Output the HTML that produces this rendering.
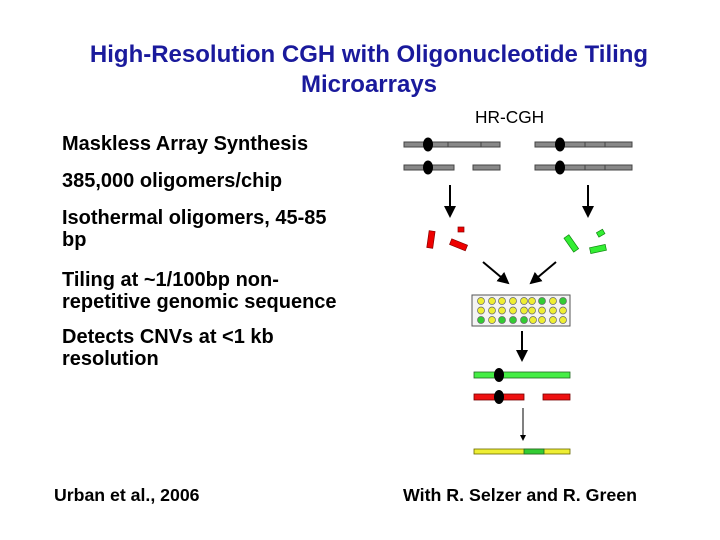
<!DOCTYPE html>
<html><head><style>
body{margin:0;background:#fff;}
.t{position:absolute;font-family:"Liberation Sans",sans-serif;font-weight:bold;color:#000;white-space:nowrap;}
.l{font-size:20px;line-height:22px;left:62px;}
</style></head><body>
<div style="position:relative;width:720px;height:540px;overflow:hidden;">
<div class="t" style="left:0;width:738px;top:40px;text-align:center;color:#1a1a9c;font-size:24px;line-height:30px;">High-Resolution CGH with Oligonucleotide Tiling<br>Microarrays</div>
<div class="t l" style="top:133px">Maskless Array Synthesis</div>
<div class="t l" style="top:170px">385,000 oligomers/chip</div>
<div class="t l" style="top:207px">Isothermal oligomers, 45-85<br>bp</div>
<div class="t l" style="top:269px">Tiling at ~1/100bp non-<br>repetitive genomic sequence</div>
<div class="t l" style="top:326px">Detects CNVs at &lt;1 kb<br>resolution</div>
<div class="t" style="left:54px;top:485px;font-size:17.7px;">Urban et al., 2006</div>
<div class="t" style="left:403px;top:485px;font-size:17.8px;">With R. Selzer and R. Green</div>
<div class="t" style="left:475px;top:107px;font-size:17.3px;font-weight:normal;">HR-CGH</div>
<svg width="720" height="540" style="position:absolute;left:0;top:0">
<defs><marker id="a" markerWidth="6" markerHeight="6" refX="5" refY="3" orient="auto" markerUnits="strokeWidth"><path d="M0,0L6,3L0,6z" fill="#000"/></marker></defs>
<g fill="#888" stroke="#444" stroke-width="1">
<rect x="404" y="142" width="96" height="5"/><line x1="448" y1="142" x2="448" y2="147"/><line x1="481" y1="142" x2="481" y2="147"/>
<rect x="404" y="165" width="50" height="5"/><rect x="473" y="165" width="27" height="5"/>
<rect x="535" y="142" width="97" height="5"/><line x1="585" y1="142" x2="585" y2="147"/><line x1="605" y1="142" x2="605" y2="147"/>
<rect x="535" y="165" width="97" height="5"/><line x1="585" y1="165" x2="585" y2="170"/><line x1="605" y1="165" x2="605" y2="170"/>
</g>
<g fill="#000"><ellipse cx="428" cy="144.5" rx="5" ry="7"/><ellipse cx="428" cy="167.5" rx="5" ry="7"/><ellipse cx="560" cy="144.5" rx="5" ry="7"/><ellipse cx="560" cy="167.5" rx="5" ry="7"/></g>
<g stroke="#000" stroke-width="2" fill="none" marker-end="url(#a)">
<line x1="450" y1="185" x2="450" y2="216"/><line x1="588" y1="185" x2="588" y2="216"/>
<line x1="483" y1="262" x2="508" y2="283"/><line x1="556" y1="262" x2="531" y2="283"/>
<line x1="522" y1="331" x2="522" y2="360"/>
</g>
<line x1="523" y1="408" x2="523" y2="440" stroke="#000" stroke-width="1" marker-end="url(#a)"/>
<g fill="#e00" stroke="#800" stroke-width="0.7">
<rect x="428" y="231" width="6" height="17" transform="rotate(8 431 239)"/>
<rect x="458" y="227" width="6" height="5"/>
<rect x="450" y="242" width="17" height="6" transform="rotate(22 459 245)"/>
</g>
<g fill="#3e3" stroke="#181" stroke-width="0.7">
<rect x="568" y="235" width="6" height="17" transform="rotate(-35 571 243)"/>
<rect x="597" y="231" width="7" height="5" transform="rotate(-30 600 233)"/>
<rect x="590" y="246" width="16" height="6" transform="rotate(-12 598 249)"/>
</g>
<rect x="472" y="295" width="98" height="31" fill="#f4f4f4" stroke="#555"/>
<g stroke="#666" stroke-width="0.7">
<circle cx="481" cy="301" r="3.5" fill="#ee3"/><circle cx="492" cy="301" r="3.5" fill="#ee3"/><circle cx="502" cy="301" r="3.5" fill="#ee3"/><circle cx="513" cy="301" r="3.5" fill="#ee3"/><circle cx="524" cy="301" r="3.5" fill="#ee3"/><circle cx="532" cy="301" r="3.5" fill="#ee3"/><circle cx="542" cy="301" r="3.5" fill="#3c3"/><circle cx="553" cy="301" r="3.5" fill="#ee3"/><circle cx="563" cy="301" r="3.5" fill="#3c3"/>
<circle cx="481" cy="310.5" r="3.5" fill="#ee3"/><circle cx="492" cy="310.5" r="3.5" fill="#ee3"/><circle cx="502" cy="310.5" r="3.5" fill="#ee3"/><circle cx="513" cy="310.5" r="3.5" fill="#ee3"/><circle cx="524" cy="310.5" r="3.5" fill="#ee3"/><circle cx="532" cy="310.5" r="3.5" fill="#ee3"/><circle cx="542" cy="310.5" r="3.5" fill="#ee3"/><circle cx="553" cy="310.5" r="3.5" fill="#ee3"/><circle cx="563" cy="310.5" r="3.5" fill="#ee3"/>
<circle cx="481" cy="320" r="3.5" fill="#3c3"/><circle cx="492" cy="320" r="3.5" fill="#ee3"/><circle cx="502" cy="320" r="3.5" fill="#3c3"/><circle cx="513" cy="320" r="3.5" fill="#3c3"/><circle cx="524" cy="320" r="3.5" fill="#3c3"/><circle cx="533" cy="320" r="3.5" fill="#ee3"/><circle cx="542" cy="320" r="3.5" fill="#ee3"/><circle cx="553" cy="320" r="3.5" fill="#ee3"/><circle cx="563" cy="320" r="3.5" fill="#ee3"/>
</g>
<rect x="474" y="372" width="96" height="6" fill="#4e4" stroke="#262" stroke-width="0.8"/>
<rect x="474" y="394" width="50" height="6" fill="#e11" stroke="#700" stroke-width="0.8"/>
<rect x="543" y="394" width="27" height="6" fill="#e11" stroke="#700" stroke-width="0.8"/>
<ellipse cx="499" cy="375" rx="5" ry="7"/><ellipse cx="499" cy="397" rx="5" ry="7"/>
<rect x="474" y="449" width="96" height="5" fill="#ee3" stroke="#660" stroke-width="0.8"/>
<rect x="524" y="449" width="20" height="5" fill="#3c3" stroke="#262" stroke-width="0.8"/>
</svg>
</div>
</body></html>
